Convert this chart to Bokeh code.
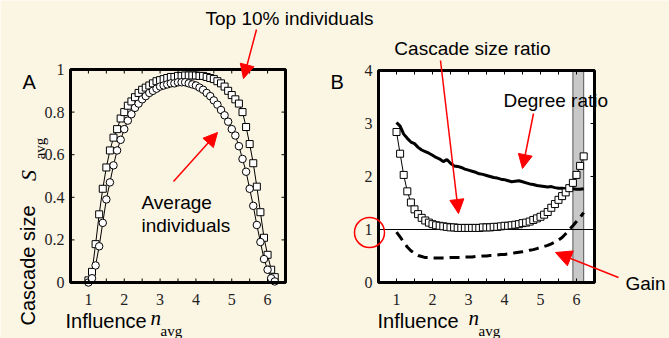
import numpy as np
from bokeh.plotting import figure
from bokeh.models import Range1d, Label, Arrow, NormalHead
from bokeh.core.properties import value
from bokeh.embed import file_html
from bokeh.resources import INLINE

# ---------------- data ----------------
n_avg = [1.0, 1.1, 1.2, 1.3, 1.4, 1.5, 1.6, 1.7, 1.8, 1.9,
         2.0, 2.1, 2.2, 2.3, 2.4, 2.5, 2.6, 2.7, 2.8, 2.9,
         3.0, 3.1, 3.2, 3.3, 3.4, 3.5, 3.6, 3.7, 3.8, 3.9,
         4.0, 4.1, 4.2, 4.3, 4.4, 4.5, 4.6, 4.7, 4.8, 4.9,
         5.0, 5.1, 5.2, 5.3, 5.4, 5.5, 5.6, 5.7, 5.8, 5.9,
         6.0, 6.1, 6.2]

s_top10 = [0.01, 0.05, 0.18, 0.32, 0.44, 0.54, 0.62, 0.68, 0.72, 0.77,
           0.80, 0.83, 0.85, 0.87, 0.89, 0.905, 0.915, 0.925, 0.935, 0.945,
           0.95, 0.955, 0.96, 0.965, 0.965, 0.97, 0.97, 0.972, 0.972, 0.972,
           0.972, 0.97, 0.97, 0.965, 0.96, 0.955, 0.945, 0.935, 0.92, 0.90,
           0.88, 0.86, 0.84, 0.80, 0.73, 0.65, 0.56, 0.45, 0.33, 0.21,
           0.13, 0.06, 0.025]

s_average = [0.00, 0.02, 0.08, 0.17, 0.28, 0.39, 0.47, 0.55, 0.62, 0.67,
             0.72, 0.76, 0.79, 0.82, 0.84, 0.86, 0.875, 0.89, 0.90, 0.91,
             0.92, 0.925, 0.93, 0.935, 0.935, 0.94, 0.94, 0.94, 0.935, 0.93,
             0.925, 0.915, 0.905, 0.89, 0.875, 0.855, 0.835, 0.81, 0.785, 0.755,
             0.72, 0.69, 0.64, 0.58, 0.52, 0.44, 0.36, 0.27, 0.19, 0.11,
             0.06, 0.02, 0.005]

cascade_ratio = [2.84, 2.43, 2.03, 1.72, 1.51, 1.38, 1.29, 1.22, 1.17, 1.13,
                 1.10, 1.08, 1.07, 1.06, 1.05, 1.04, 1.04, 1.03, 1.03, 1.03,
                 1.03, 1.03, 1.03, 1.03, 1.04, 1.04, 1.04, 1.05, 1.05, 1.06,
                 1.07, 1.07, 1.08, 1.09, 1.10, 1.12, 1.13, 1.15, 1.18, 1.21,
                 1.24, 1.28, 1.33, 1.41, 1.48, 1.56, 1.63, 1.70, 1.78, 1.88,
                 2.03, 2.20, 2.38]

degree_ratio = [3.02, 2.95, 2.80, 2.72, 2.65, 2.62, 2.55, 2.50, 2.47, 2.44,
                2.40, 2.36, 2.33, 2.28, 2.32, 2.25, 2.20, 2.19, 2.17, 2.14,
                2.12, 2.10, 2.08, 2.05, 2.04, 2.02, 2.00, 1.98, 1.97, 1.95,
                1.94, 1.92, 1.90, 1.91, 1.92, 1.90, 1.88, 1.86, 1.85, 1.83,
                1.82, 1.81, 1.80, 1.81, 1.79, 1.78, 1.78, 1.77, 1.76, 1.77,
                1.76, 1.76, 1.77]

gain = [0.95, 0.86, 0.76, 0.67, 0.60, 0.55, 0.51, 0.49, 0.47, 0.47,
        0.46, 0.46, 0.46, 0.46, 0.46, 0.47, 0.47, 0.47, 0.47, 0.48,
        0.48, 0.48, 0.49, 0.49, 0.50, 0.50, 0.51, 0.51, 0.52, 0.53,
        0.53, 0.54, 0.55, 0.56, 0.57, 0.58, 0.59, 0.61, 0.62, 0.64,
        0.66, 0.68, 0.70, 0.73, 0.76, 0.80, 0.85, 0.92, 1.00, 1.07,
        1.15, 1.23, 1.32]

band_limits = [5.9, 6.2]          # shaded region in panel B
x_ticks = [1, 2, 3, 4, 5, 6]
x_tick_labels = ["1", "2", "3", "4", "5", "6"]
a_y_ticks = [0, 0.2, 0.4, 0.6, 0.8, 1.0]
a_y_tick_labels = ["0", "0.2", "0.4", "0.6", "0.8", "1"]
b_y_ticks = [0, 1, 2, 3, 4]
b_y_tick_labels = ["0", "1", "2", "3", "4"]

# axis limits of each panel
A_X = (0.5, 6.5)
A_Y = (0.0, 1.0)
B_X = (0.5, 6.5)
B_Y = (0.0, 4.0)

# ---------------- layout ----------------
W, H = 669, 338
BG = "#FBF5E4"

# pixel geometry of the two panel boxes (canvas coordinates, from top-left)
a_left, a_right, a_top, a_bottom = 70, 285, 69, 282
b_left, b_right, b_top, b_bottom = 378, 594, 70, 282


def make_range(lo, hi, p_lo, p_hi, total, flip=False):
    ppu = (p_hi - p_lo) / (hi - lo)
    if flip:  # vertical: p measured from top
        start = lo - (total - p_hi) / ppu
    else:
        start = lo - p_lo / ppu
    return Range1d(start, start + total / ppu), ppu


xa, ppx_a = make_range(*A_X, a_left, a_right, W)
ya, ppy_a = make_range(*A_Y, a_top, a_bottom, H, flip=True)
xb, ppx_b = make_range(*B_X, b_left, b_right, W)
yb, ppy_b = make_range(*B_Y, b_top, b_bottom, H, flip=True)

p = figure(width=W, height=H, x_range=xa, y_range=ya,
           x_axis_type=None, y_axis_type=None,
           toolbar_location=None, output_backend="svg",
           min_border=0, min_border_left=0, min_border_right=0,
           min_border_top=0, min_border_bottom=0)
p.extra_x_ranges = {"xb": xb}
p.extra_y_ranges = {"yb": yb}
p.background_fill_color = BG
p.border_fill_color = BG
p.outline_line_color = None

SERIF = value("Liberation Serif")
SANS = "Liberation Sans"

# ---------------- panel A ----------------
p.line(n_avg, s_top10, line_color="black", line_width=1)
p.line(n_avg, s_average, line_color="black", line_width=1)
p.scatter(n_avg, s_top10, marker="square", size=7, fill_color="white",
          line_color="black", line_width=1)
p.scatter(n_avg, s_average, marker="circle", size=7.5, fill_color="white",
          line_color="black", line_width=1)

# inward ticks for A
tl = 4
minor_x = [v / 2 for v in range(2, 13)]
p.segment(x0=minor_x, y0=[A_Y[0]] * len(minor_x), x1=minor_x,
          y1=[A_Y[0] + tl / ppy_a] * len(minor_x), line_color="black", line_width=1)
p.segment(x0=minor_x, y0=[A_Y[1]] * len(minor_x), x1=minor_x,
          y1=[A_Y[1] - tl / ppy_a] * len(minor_x), line_color="black", line_width=1)
p.segment(x0=[A_X[0]] * len(a_y_ticks), y0=a_y_ticks,
          x1=[A_X[0] + tl / ppx_a] * len(a_y_ticks), y1=a_y_ticks, line_color="black")
p.segment(x0=[A_X[1]] * len(a_y_ticks), y0=a_y_ticks,
          x1=[A_X[1] - tl / ppx_a] * len(a_y_ticks), y1=a_y_ticks, line_color="black")

p.quad(left=A_X[0], right=A_X[1], bottom=A_Y[0], top=A_Y[1],
       fill_color=None, line_color="black", line_width=3)

p.text(x=x_ticks, y=[A_Y[0]] * len(x_ticks), text=x_tick_labels, y_offset=17,
       text_font=SERIF, text_font_size="16px", text_align="center",
       text_baseline="middle", text_color="#222222")
p.text(x=[A_X[0]] * len(a_y_ticks), y=a_y_ticks, text=a_y_tick_labels, x_offset=-6,
       text_font=SERIF, text_font_size="16px", text_align="right",
       text_baseline="middle", text_color="#222222")

# ---------------- panel B ----------------
kb = dict(x_range_name="xb", y_range_name="yb")
p.quad(left=B_X[0], right=B_X[1], bottom=B_Y[0], top=B_Y[1],
       fill_color="white", line_color=None, **kb)
p.quad(left=band_limits[0], right=band_limits[1], bottom=B_Y[0], top=B_Y[1],
       fill_color="#C8C8C8", line_color="#555555", line_width=1, **kb)
p.line(list(B_X), [1, 1], line_color="black", line_width=1, **kb)
p.line(n_avg, gain, line_color="black", line_width=3, line_dash="10 6", **kb)
p.line(n_avg, degree_ratio, line_color="black", line_width=3, **kb)
p.line(n_avg, cascade_ratio, line_color="black", line_width=1, **kb)
p.scatter(n_avg, cascade_ratio, marker="square", size=7, fill_color="white",
          line_color="black", line_width=1, **kb)

p.segment(x0=minor_x, y0=[B_Y[0]] * len(minor_x), x1=minor_x,
          y1=[B_Y[0] + tl / ppy_b] * len(minor_x), line_color="black", **kb)
p.segment(x0=minor_x, y0=[B_Y[1]] * len(minor_x), x1=minor_x,
          y1=[B_Y[1] - tl / ppy_b] * len(minor_x), line_color="black", **kb)
p.segment(x0=[B_X[1]] * len(b_y_ticks), y0=b_y_ticks,
          x1=[B_X[1] - tl / ppx_b] * len(b_y_ticks), y1=b_y_ticks, line_color="black", **kb)

p.quad(left=B_X[0], right=B_X[1], bottom=B_Y[0], top=B_Y[1],
       fill_color=None, line_color="black", line_width=3, **kb)

p.text(x=x_ticks, y=[B_Y[0]] * len(x_ticks), text=x_tick_labels, y_offset=17,
       text_font=SERIF, text_font_size="16px", text_align="center",
       text_baseline="middle", text_color="#222222", **kb)
p.text(x=[B_X[0]] * len(b_y_ticks), y=b_y_ticks, text=b_y_tick_labels, x_offset=-6,
       text_font=SERIF, text_font_size="16px", text_align="right",
       text_baseline="middle", text_color="#222222", **kb)

# red circle around the "1" tick label
p.scatter(x=[B_X[0] - 9 / ppx_b], y=[1 - 3 / ppy_b], marker="circle", size=30,
          fill_color=None, line_color="red", line_width=1.5, **kb)


# ---------------- annotations (screen coordinates) ----------------
def sx(xr):
    return xr


def sy(yr):
    return H - yr


def label(text, xr, yr, size="19px", align="left", font=SANS, style="normal",
          angle=0.0, baseline="middle", color="black"):
    p.add_layout(Label(x=sx(xr), y=sy(yr), x_units="screen", y_units="screen",
                       text=text, text_font=font, text_font_size=size,
                       text_font_style=style, text_align=align,
                       text_baseline=baseline, angle=angle, text_color=color))


def arrow(x0, y0, x1, y1, head=14):
    p.add_layout(Arrow(end=NormalHead(size=head, fill_color="red", line_color="red"),
                       x_start=sx(x0), y_start=sy(y0), x_end=sx(x1), y_end=sy(y1),
                       start_units="screen", end_units="screen",
                       line_color="red", line_width=1.5))


label("A", 22, 81, size="20px")
label("B", 330, 81, size="20px")

label("Top 10% individuals", 205, 18)
arrow(256, 29, 243, 78)

label("Average", 141, 202)
label("individuals", 141, 225)
arrow(173, 181, 217, 132)

label("Cascade size ratio", 472, 48, align="center")
arrow(440, 60, 458, 213)

label("Degree ratio", 503, 100)
arrow(533, 113, 522, 168)

label("Gain", 625, 283)
arrow(618, 277, 555, 252, head=16)

# axis titles
label("Cascade size", 27, 265, size="20px", align="center", angle=np.pi / 2)
label("S", 28, 175, size="22px", align="center", font="Liberation Serif",
      style="italic", angle=np.pi / 2)
label("avg", 39, 148, size="15px", align="center", font="Liberation Serif",
      angle=np.pi / 2)

label("Influence", 65, 320, size="20px")
label("n", 150, 317, size="21px", font="Liberation Serif", style="italic",
      baseline="alphabetic")
label("avg", 160, 330, size="15px", font="Liberation Serif", baseline="alphabetic")

label("Influence", 377, 320, size="20px")
label("n", 468, 317, size="21px", font="Liberation Serif", style="italic",
      baseline="alphabetic")
label("avg", 478, 330, size="15px", font="Liberation Serif", baseline="alphabetic")

open("out.html", "w").write(file_html(p, INLINE))
